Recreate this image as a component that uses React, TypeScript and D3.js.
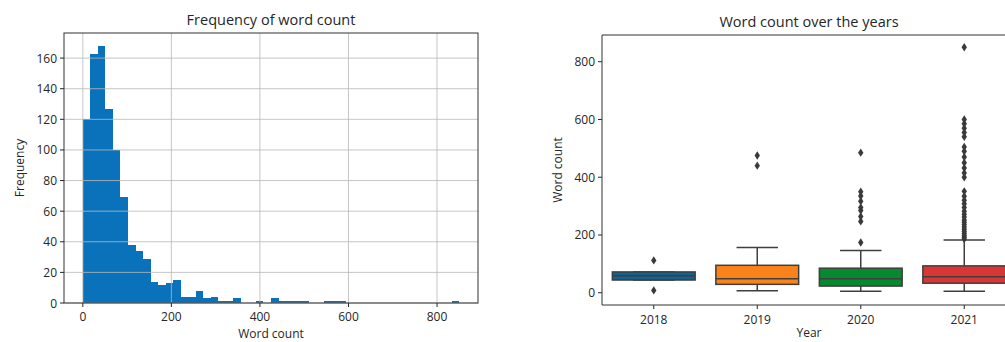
import React, { useEffect, useRef } from "react";
import * as d3 from "d3";

// histogram: 50 equal bins from 0 to 850 words
const histMin = 0;
const histMax = 850;
const histCounts = [
  120, 163, 168, 127, 100, 69, 38, 34, 29, 14,
  12, 13, 15, 4, 4, 8, 3, 4, 1, 1,
  3, 0, 0, 1, 0, 3, 1, 1, 1, 1,
  0, 0, 1, 1, 1, 0, 0, 0, 0, 0,
  0, 0, 0, 0, 0, 0, 0, 0, 0, 1,
];
const histXTicks = [0, 200, 400, 600, 800];
const histYTicks = [0, 20, 40, 60, 80, 100, 120, 140, 160];

// box plot per year
const years = ["2018", "2019", "2020", "2021"];
const q1 = [44, 29, 23, 33];
const medians = [59, 48, 48, 55];
const q3 = [72, 95, 85, 93];
const whiskerLow = [44, 7, 5, 5];
const whiskerHigh = [72, 157, 146, 183];
const outliers = [
  [8, 112],
  [440, 475],
  [174, 247, 264, 285, 295, 317, 335, 350, 485],
  [186, 192, 198, 205, 212, 220, 228, 236, 244, 252, 262, 272, 282, 295, 308, 320, 334, 351,
   400, 415, 432, 450, 470, 490, 505, 540, 555, 570, 585, 600, 850],
];
const boxColors = ["#13628f", "#f9821a", "#078a2f", "#d93636"];
const boxYTicks = [0, 200, 400, 600, 800];

const FONT = "'Open Sans', 'DejaVu Sans', sans-serif";

const App = () => {
  const svgRef = useRef<SVGSVGElement>(null);

  useEffect(() => {
    const svg = d3.select(svgRef.current);
    svg.selectAll("*").remove();
    const ink = "#262626";

    // ---------- left: histogram ----------
    const L = { left: 64, right: 478, top: 33, bottom: 303 };
    const span = histMax - histMin;
    const x = d3.scaleLinear()
      .domain([histMin - span * 0.05, histMax + span * 0.05])
      .range([L.left, L.right]);
    const yMax = d3.max(histCounts)! * 1.05;
    const y = d3.scaleLinear().domain([0, yMax]).range([L.bottom, L.top]);
    const binW = span / histCounts.length;

    const gL = svg.append("g");
    gL.selectAll("rect.bar")
      .data(histCounts)
      .join("rect")
      .attr("class", "bar")
      .attr("x", (_, i) => x(histMin + i * binW))
      .attr("width", (_, i) => x(histMin + (i + 1) * binW) - x(histMin + i * binW))
      .attr("y", d => y(d))
      .attr("height", d => y(0) - y(d))
      .attr("fill", "#0a72ba")
      .attr("shape-rendering", "crispEdges");

    // grid over bars
    gL.selectAll("line.gx")
      .data(histXTicks)
      .join("line")
      .attr("x1", d => x(d)).attr("x2", d => x(d))
      .attr("y1", L.top).attr("y2", L.bottom)
      .attr("stroke", "#b8b8b8").attr("stroke-opacity", 0.8).attr("stroke-width", 1);
    gL.selectAll("line.gy")
      .data(histYTicks)
      .join("line")
      .attr("x1", L.left).attr("x2", L.right)
      .attr("y1", d => y(d)).attr("y2", d => y(d))
      .attr("stroke", "#b8b8b8").attr("stroke-opacity", 0.8).attr("stroke-width", 1);

    gL.append("rect")
      .attr("x", L.left).attr("y", L.top)
      .attr("width", L.right - L.left).attr("height", L.bottom - L.top)
      .attr("fill", "none").attr("stroke", "#333").attr("stroke-width", 1);

    // ticks
    histXTicks.forEach(t => {
      gL.append("line").attr("x1", x(t)).attr("x2", x(t))
        .attr("y1", L.bottom).attr("y2", L.bottom + 4).attr("stroke", ink);
      gL.append("text").attr("x", x(t)).attr("y", L.bottom + 18)
        .attr("text-anchor", "middle").attr("fill", ink)
        .style("font-family", FONT).style("font-size", "12px").text(t);
    });
    histYTicks.forEach(t => {
      gL.append("line").attr("x1", L.left - 4).attr("x2", L.left)
        .attr("y1", y(t)).attr("y2", y(t)).attr("stroke", ink);
      gL.append("text").attr("x", L.left - 7).attr("y", y(t) + 4.5)
        .attr("text-anchor", "end").attr("fill", ink)
        .style("font-family", FONT).style("font-size", "12px").text(t);
    });
    gL.append("text").attr("x", (L.left + L.right) / 2).attr("y", 25)
      .attr("text-anchor", "middle").attr("fill", ink)
      .style("font-family", FONT).style("font-size", "14.5px").text("Frequency of word count");
    gL.append("text").attr("x", (L.left + L.right) / 2).attr("y", 338)
      .attr("text-anchor", "middle").attr("fill", ink)
      .style("font-family", FONT).style("font-size", "12px").text("Word count");
    gL.append("text")
      .attr("transform", `translate(24,${(L.top + L.bottom) / 2}) rotate(-90)`)
      .attr("text-anchor", "middle").attr("fill", ink)
      .style("font-family", FONT).style("font-size", "12px").text("Frequency");

    // ---------- right: box plot ----------
    const R = { left: 602, right: 1016, top: 35, bottom: 305 };
    const xb = d3.scaleBand().domain(years).range([R.left, R.right]).paddingInner(0.2).paddingOuter(0.1);
    const yb = d3.scaleLinear()
      .domain([histMin - span * 0.05, histMax + span * 0.05])
      .range([R.bottom, R.top]);
    const edge = "#3f3f3f";
    const gR = svg.append("g");

    years.forEach((yr, i) => {
      const x0 = xb(yr)!;
      const bw = xb.bandwidth();
      const cx = x0 + bw / 2;
      // whiskers
      gR.append("line").attr("x1", cx).attr("x2", cx)
        .attr("y1", yb(q3[i])).attr("y2", yb(whiskerHigh[i]))
        .attr("stroke", edge).attr("stroke-width", 1.5);
      gR.append("line").attr("x1", cx).attr("x2", cx)
        .attr("y1", yb(q1[i])).attr("y2", yb(whiskerLow[i]))
        .attr("stroke", edge).attr("stroke-width", 1.5);
      [whiskerLow[i], whiskerHigh[i]].forEach(v => {
        gR.append("line").attr("x1", cx - bw / 4).attr("x2", cx + bw / 4)
          .attr("y1", yb(v)).attr("y2", yb(v))
          .attr("stroke", edge).attr("stroke-width", 1.5);
      });
      gR.append("rect")
        .attr("x", x0).attr("width", bw)
        .attr("y", yb(q3[i])).attr("height", yb(q1[i]) - yb(q3[i]))
        .attr("fill", boxColors[i]).attr("stroke", edge).attr("stroke-width", 1.5);
      gR.append("line").attr("x1", x0).attr("x2", x0 + bw)
        .attr("y1", yb(medians[i])).attr("y2", yb(medians[i]))
        .attr("stroke", edge).attr("stroke-width", 1.5);
      gR.selectAll(null)
        .data(outliers[i])
        .join("path")
        .attr("transform", d => `translate(${cx},${yb(d)})`)
        .attr("d", "M0,-4.2L2.7,0L0,4.2L-2.7,0Z")
        .attr("fill", "#3a3a3a");
      // x tick
      gR.append("line").attr("x1", cx).attr("x2", cx)
        .attr("y1", R.bottom).attr("y2", R.bottom + 4).attr("stroke", ink);
      gR.append("text").attr("x", cx).attr("y", R.bottom + 19)
        .attr("text-anchor", "middle").attr("fill", ink)
        .style("font-family", FONT).style("font-size", "12px").text(yr);
    });

    boxYTicks.forEach(t => {
      gR.append("line").attr("x1", R.left - 4).attr("x2", R.left)
        .attr("y1", yb(t)).attr("y2", yb(t)).attr("stroke", ink);
      gR.append("text").attr("x", R.left - 7).attr("y", yb(t) + 4.5)
        .attr("text-anchor", "end").attr("fill", ink)
        .style("font-family", FONT).style("font-size", "12px").text(t);
    });
    // spines
    gR.append("path")
      .attr("d", `M${R.right},${R.top}H${R.left}V${R.bottom}H${R.right}`)
      .attr("fill", "none").attr("stroke", "#333").attr("stroke-width", 1);
    gR.append("text").attr("x", (R.left + R.right) / 2).attr("y", 27)
      .attr("text-anchor", "middle").attr("fill", ink)
      .style("font-family", FONT).style("font-size", "14.5px").text("Word count over the years");
    gR.append("text").attr("x", (R.left + R.right) / 2).attr("y", 337)
      .attr("text-anchor", "middle").attr("fill", ink)
      .style("font-family", FONT).style("font-size", "12px").text("Year");
    gR.append("text")
      .attr("transform", `translate(562,${(R.top + R.bottom) / 2}) rotate(-90)`)
      .attr("text-anchor", "middle").attr("fill", ink)
      .style("font-family", FONT).style("font-size", "12px").text("Word count");
  }, []);

  return (
    <svg
      ref={svgRef}
      width={1005}
      height={342}
      style={{ position: "absolute", left: 0, top: 0, background: "#fff" }}
    />
  );
};

export default App;
